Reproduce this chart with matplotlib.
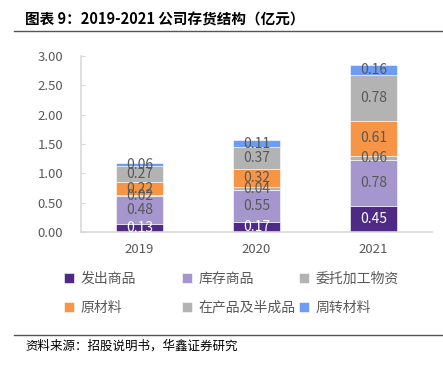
import matplotlib
matplotlib.use("Agg")
import matplotlib.pyplot as plt
import numpy as np

plt.rcParams['font.family'] = ['Noto Sans CJK SC', 'DejaVu Sans']

years = ["2019", "2020", "2021"]
series_names = ["发出商品", "库存商品", "委托加工物资", "原材料", "在产品及半成品", "周转材料"]
fachu = [0.13, 0.17, 0.45]
kucun = [0.48, 0.55, 0.78]
weituo = [0.02, 0.04, 0.06]
yuancailiao = [0.22, 0.32, 0.61]
zaichanpin = [0.27, 0.37, 0.78]
zhouzhuan = [0.06, 0.11, 0.16]
yticks = [0.0, 0.5, 1.0, 1.5, 2.0, 2.5, 3.0]

series = [fachu, kucun, weituo, yuancailiao, zaichanpin, zhouzhuan]
colors = ['#4E2A84', '#A596CD', '#B3B3B3', '#F59545', '#B3B3B3', '#6C9CF4']
label_colors = ['white', '#595959', '#595959', '#595959', '#595959', '#595959']

fig = plt.figure(figsize=(4.43, 3.66), dpi=100)
ax = fig.add_axes([81/443, (366-232)/366, (432-81)/443, (232-56)/366])

x = np.arange(len(years))
bottom = np.zeros(len(years))
handles = []
for vals, c, lc, name in zip(series, colors, label_colors, series_names):
    v = np.array(vals)
    b = ax.bar(x, v, 0.4, bottom=bottom, color=c, edgecolor='white', linewidth=0.4, label=name)
    handles.append(b)
    for xi, vi, bi in zip(x, v, bottom):
        ax.text(xi, bi + vi/2, f"{vi:.2f}", ha='center', va='center', fontsize=10, color=lc)
    bottom = bottom + v

ax.set_xlim(-0.5, 2.5)
ax.set_ylim(0, 3.0)
ax.set_yticks(yticks)
ax.set_yticklabels([f"{t:.2f}" for t in yticks])
ax.set_xticks(x)
ax.set_xticklabels(years)
ax.tick_params(axis='y', direction='in', length=3, color='#d9d9d9', pad=13, labelsize=9.5, labelcolor='#595959')
ax.tick_params(axis='x', length=0, pad=8, labelsize=9.5, labelcolor='#595959')
for s in ['top', 'right']:
    ax.spines[s].set_visible(False)
for s in ['left', 'bottom']:
    ax.spines[s].set_color('#d9d9d9')
    ax.spines[s].set_linewidth(1.2)

# legend: three fixed-width columns, row-wise order
col_x = [64, 182, 299]
for ci in range(3):
    hs = [handles[ci], handles[ci + 3]]
    ls = [series_names[ci], series_names[ci + 3]]
    fig.legend(handles=hs, labels=ls, ncol=1, loc='upper left',
               bbox_to_anchor=(col_x[ci]/443, 1 - 272/366), frameon=False, fontsize=10,
               handlelength=0.7, handleheight=0.7, handletextpad=0.5,
               labelspacing=1.05, labelcolor='#595959', borderpad=0, borderaxespad=0)

fig.text(25/443, 1 - 20/366, "图表 9：2019-2021 公司存货结构（亿元）", fontsize=10.5,
         fontweight='bold', va='center', ha='left', color='black')
fig.add_artist(plt.Line2D([14/443, 1], [1 - 31/366, 1 - 31/366], color='#555555', lw=1))
fig.add_artist(plt.Line2D([14/443, 1], [1 - 335/366, 1 - 335/366], color='#555555', lw=1))
fig.text(25/443, 1 - 346/366, "资料来源：招股说明书，华鑫证券研究", fontsize=9,
         va='center', ha='left', color='black')

fig.savefig("out.png", dpi=100)
